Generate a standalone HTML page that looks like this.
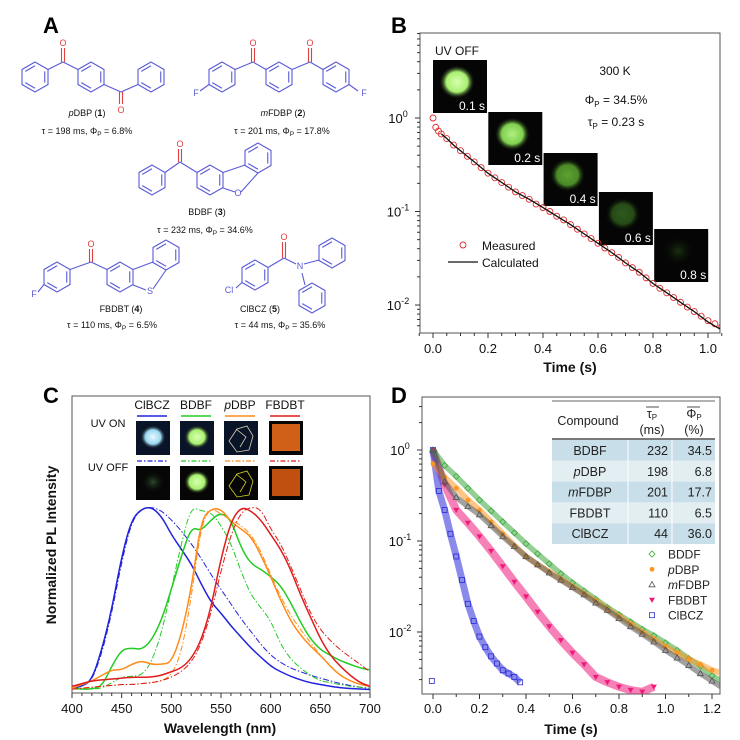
<!DOCTYPE html>
<html><head><meta charset="utf-8">
<style>
html,body{margin:0;padding:0;background:#fff;}
svg{display:block;font-family:"Liberation Sans",sans-serif;}
.mol{stroke:#5a5ad6;stroke-width:1.1;fill:none;}
.ox{fill:#e04040;font-size:9px;}
.at{fill:#5a5ad6;font-size:9px;}
.cap{font-size:9px;fill:#111;}
.tick{font-size:13px;fill:#111;}
.ttl{font-size:14px;font-weight:bold;fill:#111;}
.pl{font-size:22px;font-weight:bold;fill:#000;}
</style></head>
<body>
<svg id="fig" width="740" height="740" viewBox="0 0 740 740" xmlns="http://www.w3.org/2000/svg">
<defs>
<clipPath id="clipB"><rect x="420" y="33" width="300" height="300"/></clipPath>
<clipPath id="clipC"><rect x="72" y="396" width="298" height="297"/></clipPath>
<clipPath id="clipD"><rect x="422" y="397" width="298" height="297"/></clipPath>
<radialGradient id="gG1"><stop offset="0" stop-color="#d8ffb0"/><stop offset="0.6" stop-color="#a8f070"/><stop offset="1" stop-color="#000" stop-opacity="0"/></radialGradient>
<radialGradient id="gG2"><stop offset="0" stop-color="#b0f080"/><stop offset="0.6" stop-color="#80d050"/><stop offset="1" stop-color="#000" stop-opacity="0"/></radialGradient>
<radialGradient id="gG3"><stop offset="0" stop-color="#60a030"/><stop offset="0.6" stop-color="#4a8a28"/><stop offset="1" stop-color="#000" stop-opacity="0"/></radialGradient>
<radialGradient id="gG4"><stop offset="0" stop-color="#2e5a1c"/><stop offset="0.6" stop-color="#264a18"/><stop offset="1" stop-color="#000" stop-opacity="0"/></radialGradient>
<radialGradient id="gG5"><stop offset="0" stop-color="#1c3012"/><stop offset="1" stop-color="#000" stop-opacity="0"/></radialGradient>
<radialGradient id="gBlue"><stop offset="0" stop-color="#e8f8ff"/><stop offset="0.6" stop-color="#9ad8f0"/><stop offset="1" stop-color="#000" stop-opacity="0"/></radialGradient>
<radialGradient id="gDim"><stop offset="0" stop-color="#2c4a2c"/><stop offset="1" stop-color="#000" stop-opacity="0"/></radialGradient>
</defs>

<g id="panelA">
<text x="43" y="33" class="pl">A</text>
<g id="molecules"></g>
<text x="87" y="116" text-anchor="middle" class="cap"><tspan font-style="italic">p</tspan>DBP (<tspan font-weight="bold">1</tspan>)</text>
<text x="87" y="134" text-anchor="middle" class="cap">τ = 198 ms, Φ<tspan font-size="6.5" dy="2">P</tspan><tspan dy="-2"> = 6.8%</tspan></text>
<text x="283" y="116" text-anchor="middle" class="cap"><tspan font-style="italic">m</tspan>FDBP (<tspan font-weight="bold">2</tspan>)</text>
<text x="282" y="134" text-anchor="middle" class="cap">τ = 201 ms, Φ<tspan font-size="6.5" dy="2">P</tspan><tspan dy="-2"> = 17.8%</tspan></text>
<text x="207" y="215" text-anchor="middle" class="cap">BDBF (<tspan font-weight="bold">3</tspan>)</text>
<text x="205" y="233" text-anchor="middle" class="cap">τ = 232 ms, Φ<tspan font-size="6.5" dy="2">P</tspan><tspan dy="-2"> = 34.6%</tspan></text>
<text x="121" y="312" text-anchor="middle" class="cap">FBDBT (<tspan font-weight="bold">4</tspan>)</text>
<text x="112" y="328" text-anchor="middle" class="cap">τ = 110 ms, Φ<tspan font-size="6.5" dy="2">P</tspan><tspan dy="-2"> = 6.5%</tspan></text>
<text x="260" y="312" text-anchor="middle" class="cap">ClBCZ (<tspan font-weight="bold">5</tspan>)</text>
<text x="280" y="328" text-anchor="middle" class="cap">τ = 44 ms, Φ<tspan font-size="6.5" dy="2">P</tspan><tspan dy="-2"> = 35.6%</tspan></text>
</g>

<g id="panelB">
<text x="391" y="33" class="pl">B</text>
<rect x="420" y="33" width="300" height="300" fill="none" stroke="#555" stroke-width="1"/>
<g id="bAxes"></g>
<g id="bImgs"></g>
<g id="bData" clip-path="url(#clipB)"></g>
<text x="435" y="55" font-size="12" fill="#111">UV OFF</text>
<text x="615" y="75" font-size="12" fill="#111" text-anchor="middle">300 K</text>
<text x="616" y="104" font-size="12" fill="#111" text-anchor="middle">Φ<tspan font-size="8" dy="3">P</tspan><tspan dy="-3"> = 34.5%</tspan></text>
<text x="616" y="126" font-size="12" fill="#111" text-anchor="middle">τ<tspan font-size="8" dy="3">P</tspan><tspan dy="-3"> = 0.23 s</tspan></text>
<circle cx="463" cy="245" r="3" fill="none" stroke="#e03030" stroke-width="0.9"/>
<text x="482" y="250" font-size="12" fill="#111">Measured</text>
<line x1="448" y1="262" x2="478" y2="262" stroke="#111" stroke-width="1.2"/>
<text x="482" y="267" font-size="12" fill="#111">Calculated</text>
<text x="570" y="372" text-anchor="middle" class="ttl">Time (s)</text>
</g>

<g id="panelC">
<text x="43" y="403" class="pl">C</text>
<rect x="72" y="396" width="298" height="297" fill="none" stroke="#555" stroke-width="1"/>
<g id="cAxes"></g>
<g id="cData" clip-path="url(#clipC)"></g>
<g id="cInsets"></g>
<text x="220" y="733" text-anchor="middle" class="ttl">Wavelength (nm)</text>
<text transform="translate(56,545) rotate(-90)" text-anchor="middle" class="ttl">Normalized PL Intensity</text>
</g>

<g id="panelD">
<text x="391" y="403" class="pl">D</text>
<rect x="422" y="397" width="298" height="297" fill="none" stroke="#555" stroke-width="1"/>
<g id="dAxes"></g>
<g id="dData" clip-path="url(#clipD)"></g>
<g id="dTable"></g>
<g id="dLegend"></g>
<text x="571" y="734" text-anchor="middle" class="ttl">Time (s)</text>
</g>
</svg>

<script>
const bTimes = [0,0.01,0.02,0.03,0.05,0.075,0.1,0.125,0.15,0.175,0.2,0.225,0.25,0.275,0.3,0.325,0.35,0.375,0.4,0.425,0.45,0.475,0.5,0.525,0.55,0.575,0.6,0.625,0.65,0.675,0.7,0.725,0.75,0.775,0.8,0.825,0.85,0.875,0.9,0.925,0.95,0.975,1.0,1.025,1.05];
const bMeasured = [1,0.794,0.724,0.676,0.603,0.513,0.447,0.389,0.339,0.295,0.257,0.229,0.204,0.182,0.162,0.148,0.135,0.120,0.110,0.100,0.0891,0.0813,0.0724,0.0646,0.0575,0.0513,0.0457,0.0407,0.0363,0.0324,0.0282,0.0251,0.0224,0.0195,0.0170,0.0151,0.0135,0.0120,0.0107,0.0095,0.0085,0.0076,0.0068,0.0063,0.0059];
const bCalcTimes = [0.03,0.05,0.075,0.1,0.15,0.2,0.25,0.3,0.35,0.4,0.45,0.5,0.55,0.6,0.65,0.7,0.75,0.8,0.85,0.9,0.95,1.0,1.05];
const bCalculated = [0.676,0.603,0.513,0.447,0.339,0.257,0.204,0.162,0.135,0.110,0.0891,0.0724,0.0575,0.0457,0.0363,0.0282,0.0224,0.0170,0.0135,0.0107,0.0085,0.0066,0.0054];
const bXTicks = [0,0.2,0.4,0.6,0.8,1.0];
const bXTickLabels = ["0.0","0.2","0.4","0.6","0.8","1.0"];
const bYExponents = [0,-1,-2];
const bInsetTimes = [0.1,0.2,0.4,0.6,0.8];
const bInsetLabels = ["0.1 s","0.2 s","0.4 s","0.6 s","0.8 s"];

const cWavelengths = [400,410,420,430,440,450,460,470,480,490,500,510,520,530,540,550,560,570,580,590,600,610,620,630,640,650,660,670,680,690,700];
const cClbczOn  = [0.01,0.02,0.055,0.22,0.44,0.73,0.93,0.99,1.0,0.95,0.85,0.77,0.69,0.58,0.48,0.42,0.35,0.29,0.23,0.18,0.13,0.1,0.075,0.055,0.04,0.03,0.02,0.013,0.008,0.005,0.003];
const cClbczOff = [0.01,0.02,0.05,0.2,0.42,0.7,0.92,0.99,1.0,0.98,0.93,0.87,0.8,0.72,0.63,0.55,0.47,0.39,0.32,0.25,0.19,0.15,0.12,0.1,0.08,0.065,0.05,0.035,0.025,0.015,0.01];
const cBdbfOn   = [0.01,0.005,0.005,0.02,0.13,0.22,0.23,0.22,0.27,0.38,0.55,0.73,0.89,0.87,0.93,0.97,0.93,0.78,0.69,0.66,0.62,0.57,0.48,0.37,0.28,0.22,0.19,0.16,0.14,0.12,0.11];
const cBdbfOff  = [0.005,0.005,0.005,0.01,0.04,0.07,0.075,0.08,0.15,0.31,0.55,0.8,1.0,0.98,0.97,0.9,0.8,0.65,0.52,0.45,0.38,0.25,0.17,0.12,0.08,0.05,0.04,0.03,0.02,0.015,0.01];
const cPdbpOn   = [0.01,0.03,0.05,0.08,0.11,0.11,0.14,0.16,0.14,0.14,0.15,0.3,0.55,0.93,0.99,0.99,0.92,0.88,0.84,0.74,0.62,0.49,0.38,0.3,0.24,0.19,0.13,0.08,0.05,0.03,0.02];
const cPdbpOff  = [0.005,0.01,0.015,0.02,0.025,0.03,0.03,0.035,0.04,0.05,0.08,0.2,0.5,0.9,1.0,0.96,0.93,0.9,0.85,0.76,0.63,0.51,0.41,0.33,0.26,0.19,0.13,0.08,0.05,0.03,0.02];
const cFbdbtOn  = [0.02,0.035,0.05,0.055,0.06,0.065,0.07,0.07,0.07,0.08,0.1,0.12,0.17,0.27,0.45,0.72,0.92,1.0,0.98,0.93,0.85,0.77,0.66,0.52,0.4,0.28,0.19,0.13,0.08,0.04,0.02];
const cFbdbtOff = [0.005,0.01,0.015,0.02,0.025,0.03,0.03,0.035,0.04,0.05,0.07,0.1,0.15,0.25,0.42,0.65,0.85,0.97,1.0,0.99,0.88,0.8,0.68,0.55,0.42,0.33,0.27,0.22,0.18,0.14,0.1];
const cXTicks = [400,450,500,550,600,650,700];
const cCompounds = ["ClBCZ","BDBF","pDBP","FBDBT"];
const cColors = ["#2222dd","#22cc22","#ff8c1a","#e01c1c"];

const dTimes = [0,0.05,0.1,0.15,0.2,0.25,0.3,0.35,0.4,0.45,0.5,0.55,0.6,0.65,0.7,0.75,0.8,0.85,0.9,0.95,1.0,1.05,1.1,1.15,1.2,1.25];
const dBdbf  = [1,0.676,0.513,0.380,0.282,0.214,0.162,0.123,0.0933,0.0724,0.0562,0.0437,0.0347,0.0282,0.0229,0.0186,0.0155,0.0129,0.0107,0.0091,0.0076,0.0063,0.0051,0.0042,0.0033,0.0028];
const dPdbp  = [0.708,0.501,0.380,0.282,0.219,0.162,0.120,0.0891,0.0676,0.0550,0.0457,0.0380,0.0316,0.0263,0.0219,0.0178,0.0148,0.0123,0.0100,0.0083,0.0069,0.0059,0.0050,0.0044,0.0038,0.0035];
const dMfdbp = [1,0.447,0.302,0.240,0.195,0.148,0.112,0.0871,0.0676,0.0550,0.0447,0.0372,0.0309,0.0257,0.0209,0.0174,0.0141,0.0115,0.0095,0.0078,0.0063,0.0052,0.0043,0.0035,0.0029,0.0024];
const dFbdbtTimes = [0,0.05,0.1,0.15,0.2,0.25,0.3,0.35,0.4,0.45,0.5,0.55,0.6,0.65,0.7,0.75,0.8,0.85,0.9,0.95];
const dFbdbt = [1,0.417,0.219,0.158,0.112,0.0776,0.0525,0.0355,0.0245,0.0166,0.0115,0.0081,0.0059,0.0044,0.0032,0.0028,0.0025,0.0023,0.0022,0.0025];
const dClbczTimes = [0,0.025,0.05,0.075,0.1,0.125,0.15,0.175,0.2,0.225,0.25,0.275,0.3,0.325,0.35,0.375];
const dClbcz = [1,0.355,0.219,0.120,0.0676,0.0372,0.0204,0.0132,0.0089,0.0068,0.0054,0.0045,0.0038,0.0035,0.0032,0.0028];
const dXTicks = [0,0.2,0.4,0.6,0.8,1.0,1.2];
const dXTickLabels = ["0.0","0.2","0.4","0.6","0.8","1.0","1.2"];
const dYExponents = [0,-1,-2];
const tableCompounds = ["BDBF","pDBP","mFDBP","FBDBT","ClBCZ"];
const tableTau = ["232","198","201","110","44"];
const tablePhi = ["34.5","6.8","17.7","6.5","36.0"];
const legendNames = ["BDDF","pDBP","mFDBP","FBDBT","ClBCZ"];

const NS = "http://www.w3.org/2000/svg";
function mk(parent, tag, attrs, txt){
  const e = document.createElementNS(NS, tag);
  for (const k in attrs) e.setAttribute(k, attrs[k]);
  if (txt !== undefined) e.textContent = txt;
  parent.appendChild(e);
  return e;
}
const $ = id => document.getElementById(id);

(function(){
  const g = $('molecules');
  function hex(cx, cy, r, name){
    let pts = [];
    for (let i=0;i<6;i++){ const a = Math.PI/180*(90+60*i); pts.push((cx+r*Math.cos(a)).toFixed(1)+','+(cy-r*Math.sin(a)).toFixed(1)); }
    const p = mk(g,'polygon',{points:pts.join(' '),class:'mol'});
    
    
    for (let i=0;i<6;i+=2){
      const a1 = Math.PI/180*(90+60*i), a2 = Math.PI/180*(90+60*(i+1)), ri = r*0.75;
      const l = mk(g,'line',{x1:cx+ri*Math.cos(a1),y1:cy-ri*Math.sin(a1),x2:cx+ri*Math.cos(a2),y2:cy-ri*Math.sin(a2),class:'mol'});
      
      
    }
  }
  function bond(x1,y1,x2,y2,red){
    const l = mk(g,'line',{x1,y1,x2,y2,class:'mol'});
    if (red) l.setAttribute('style','stroke:#e04040');
    
    
  }
  function carbonyl(x,y,oy){
    bond(x-1.5,y,x-1.5,oy+4,true); bond(x+1.5,y,x+1.5,oy+4,true);
    const t = mk(g,'text',{x:x,y:oy+2,'text-anchor':'middle',class:'ox'},'O');
    
    
  }
  function atom(x,y,s){
    const t = mk(g,'text',{x:x,y:y,'text-anchor':'middle',class:'at'},s);
    
    
  }
  const r = 15, dx = 13, dy = 7.5;
  hex(35,77,r,'ring'); hex(91,77,r,'ring'); hex(151,77,r,'ring');
  bond(35+dx,77-dy,63,62); bond(63,62,91-dx,77-dy); carbonyl(63,62,44);
  bond(91+dx,77+dy,121,92); bond(121,92,151-dx,77+dy);
  bond(119.5,92,119.5,104,true); bond(122.5,92,122.5,104,true);
  const o2 = mk(g,'text',{x:121,y:113,'text-anchor':'middle',class:'ox'},'O');
  
  
  hex(222,77,r,'ring'); hex(279,77,r,'ring'); hex(336,77,r,'ring');
  bond(222+dx,77-dy,253,62); bond(253,62,279-dx,77-dy); carbonyl(253,62,44);
  bond(279+dx,77-dy,310,62); bond(310,62,336-dx,77-dy); carbonyl(310,62,44);
  bond(222-dx,77+dy,200,91); atom(196,96,'F');
  bond(336+dx,77+dy,358,91); atom(364,96,'F');
  hex(152,180,r,'ring'); hex(210,180,r,'ring'); hex(258,158,r,'ring');
  bond(152+dx,180-dy,180,162); bond(180,162,210-dx,180-dy); carbonyl(180,162,145);
  bond(210+dx,180-dy,245,165); bond(223,188,235,192); bond(241,192,258,173);
  atom(238,196,'O');
  hex(57,277,r,'ring'); hex(120,277,r,'ring'); hex(166,255,r,'ring');
  bond(57+dx,277-dy,91,262); bond(91,262,120-dx,277-dy); carbonyl(91,262,245);
  bond(120+dx,277-dy,153,262); bond(133,285,146,290); bond(153,289,166,270);
  atom(150,294,'S');
  bond(57-dx,277+dy,38,292); atom(34,297,'F');
  hex(255,275,r,'ring'); hex(332,253,r,'ring'); hex(312,298,r,'ring');
  bond(255+dx,275-dy,284,258); bond(284,258,296,264); carbonyl(284,258,238);
  atom(300,269,'N'); bond(304,264,319,260); bond(302,273,305,285);
  bond(255-dx,275+dy,236,288); atom(229,293,'Cl');
})();

(function(){
  const bx = t => 433 + t*275;
  const by = v => 118 - Math.log10(v)*93.5;
  const ax = $('bAxes'), dat = $('bData'), im = $('bImgs');
  for (let i=0;i<bXTicks.length;i++){
    const x = bx(bXTicks[i]);
    const t = mk(ax,'line',{x1:x,y1:333,x2:x,y2:338,stroke:'#333'});
    
    
    const l = mk(ax,'text',{x:x,y:353,'text-anchor':'middle',class:'tick'},bXTickLabels[i]);
    
    
  }
  for (let v=-0.05; v<=1.051; v+=0.05){
    const x = bx(v);
    const t = mk(ax,'line',{x1:x,y1:333,x2:x,y2:336,stroke:'#333'});
    
    
  }
  for (let i=0;i<bYExponents.length;i++){
    const y = by(Math.pow(10,bYExponents[i]));
    const t = mk(ax,'line',{x1:415,y1:y,x2:420,y2:y,stroke:'#333'});
    
    
    const l = mk(ax,'text',{x:398,y:y+5,'text-anchor':'middle',class:'tick'});
    
    
    l.innerHTML = '10<tspan font-size="9" dy="-6">'+(bYExponents[i]===0?'0':bYExponents[i])+'</tspan>';
  }
  for (let e=-3;e<=0;e++){ for (let m=2;m<=9;m++){
    const y = by(m*Math.pow(10,e));
    if (y<33||y>333) continue;
    const t = mk(ax,'line',{x1:417,y1:y,x2:420,y2:y,stroke:'#333'});
    
    
  }}
  const grads = ['gG1','gG2','gG3','gG4','gG5'];
  for (let i=0;i<bInsetTimes.length;i++){
    const x0 = 433 + i*55.3, y0 = 60 + [0,52,93,132,169][i];
    const r = mk(im,'rect',{x:x0,y:y0,width:54,height:53,fill:'#050505'});
    
    
    const c = mk(im,'ellipse',{cx:x0+24,cy:y0+22,rx:18,ry:17,fill:'url(#'+grads[i]+')'});
    
    
    const t = mk(im,'text',{x:x0+52,y:y0+50,'text-anchor':'end','font-size':'12',fill:'#fff'},bInsetLabels[i]);
    
    
  }
  const pts = bCalcTimes.map((t,i)=>bx(t).toFixed(1)+','+by(bCalculated[i]).toFixed(1)).join(' ');
  for (let i=0;i<bTimes.length;i++){
    const c = mk(dat,'circle',{cx:bx(bTimes[i]),cy:by(bMeasured[i]),r:3,fill:'none',stroke:'#e03030','stroke-width':0.9});
    
    
  }
  const pl = mk(dat,'polyline',{points:pts,fill:'none',stroke:'#111','stroke-width':1.3});
  
  
})();

(function(){
  const cx = w => 72 + (w-400)*0.9933;
  const cy = v => 690 - v*183;
  const ax = $('cAxes'), dat = $('cData'), ins = $('cInsets');
  for (let w=400; w<=700; w+=10){
    const major = cXTicks.indexOf(w) >= 0;
    const t = mk(ax,'line',{x1:cx(w),y1:693,x2:cx(w),y2:major?698:696,stroke:'#333'});
    
    
  }
  for (let i=0;i<cXTicks.length;i++){
    const l = mk(ax,'text',{x:cx(cXTicks[i]),y:713,'text-anchor':'middle',class:'tick'},String(cXTicks[i]));
    
    
  }
  const series = [[cClbczOn,cClbczOff],[cBdbfOn,cBdbfOff],[cPdbpOn,cPdbpOff],[cFbdbtOn,cFbdbtOff]];
  for (let s=0;s<4;s++){
    for (let k=0;k<2;k++){
      const arr = series[s][k];
      let d = '';
      for (let i=0;i<cWavelengths.length;i++){
        const x = cx(cWavelengths[i]), y = cy(arr[i]);
        if (i===0) d += 'M'+x.toFixed(1)+','+y.toFixed(1);
        else { const xp = cx(cWavelengths[i-1]), yp = cy(arr[i-1]);
          d += ' Q'+xp.toFixed(1)+','+yp.toFixed(1)+' '+((x+xp)/2).toFixed(1)+','+((y+yp)/2).toFixed(1); }
      }
      d += ' L'+cx(cWavelengths[cWavelengths.length-1]).toFixed(1)+','+cy(arr[arr.length-1]).toFixed(1);
      const p = mk(dat,'path',{d:d,fill:'none',stroke:cColors[s],'stroke-width':k?1:1.5,'stroke-dasharray':k?'6,2,1.5,2':'none'});
      
      
    }
  }
  const xs = [152,196,240,285];
  for (let s=0;s<4;s++){
    const lab = mk(ins,'text',{x:xs[s],y:409,'text-anchor':'middle','font-size':'12',fill:'#111'});
    
    
    lab.innerHTML = s===2 ? '<tspan font-style="italic">p</tspan>DBP' : cCompounds[s];
    const l1 = mk(ins,'line',{x1:xs[s]-15,y1:416,x2:xs[s]+15,y2:416,stroke:cColors[s],'stroke-width':1.5});
    
    
    const l2 = mk(ins,'line',{x1:xs[s]-15,y1:461,x2:xs[s]+15,y2:461,stroke:cColors[s],'stroke-width':1.2,'stroke-dasharray':'5,2,1.5,2'});
    
    
  }
  const on = mk(ins,'text',{x:108,y:427,'text-anchor':'middle','font-size':'11',fill:'#111'},'UV ON');
  
  
  const off = mk(ins,'text',{x:108,y:471,'text-anchor':'middle','font-size':'11',fill:'#111'},'UV OFF');
  
  
  const ix = [136,180,224,269];
  const fills = [['url(#gBlue)','url(#gDim)'],['url(#gG1)','url(#gG1)'],[null,null],[null,null]];
  for (let row=0; row<2; row++){
    const y0 = row? 466 : 421;
    for (let s=0;s<4;s++){
      const r = mk(ins,'rect',{x:ix[s],y:y0,width:34,height:34,fill: row===0 && s<3 ? '#0a1428' : '#060606'});
      
      
      if (s<2){
        const e = mk(ins,'ellipse',{cx:ix[s]+17,cy:y0+16,rx:13,ry:12,fill:fills[s][row]});
        
        
      } else if (s===2){
        const p = mk(ins,'path',{d:`M${ix[s]+5},${y0+20} l8,-12 l10,-3 l6,10 l-4,14 l-12,2 z M${ix[s]+12},${y0+8} l10,8 l-6,10`,fill:'none',stroke:row?'#d8d020':'#d8d0b0','stroke-width':0.8});
        
        
      } else {
        const q = mk(ins,'rect',{x:ix[s]+3,y:y0+3,width:28,height:27,fill:row?'#c05010':'#d06018'});
        
        
      }
    }
  }
})();

(function(){
  const dx = t => 433 + t*232.5;
  const dy = v => 450 - Math.log10(v)*91;
  const ax = $('dAxes'), dat = $('dData');
  for (let i=0;i<dXTicks.length;i++){
    const x = dx(dXTicks[i]);
    const t = mk(ax,'line',{x1:x,y1:694,x2:x,y2:699,stroke:'#333'});
    
    
    const l = mk(ax,'text',{x:x,y:713,'text-anchor':'middle',class:'tick'},dXTickLabels[i]);
    
    
  }
  for (let v=0.1; v<1.25; v+=0.2){
    const t = mk(ax,'line',{x1:dx(v),y1:694,x2:dx(v),y2:697,stroke:'#333'});
    
    
  }
  for (let i=0;i<dYExponents.length;i++){
    const y = dy(Math.pow(10,dYExponents[i]));
    const t = mk(ax,'line',{x1:417,y1:y,x2:422,y2:y,stroke:'#333'});
    
    
    const l = mk(ax,'text',{x:400,y:y+5,'text-anchor':'middle',class:'tick'});
    
    
    l.innerHTML = '10<tspan font-size="9" dy="-6">'+(dYExponents[i]===0?'0':dYExponents[i])+'</tspan>';
  }
  for (let e=-3;e<=0;e++){ for (let m=2;m<=9;m++){
    const y = dy(m*Math.pow(10,e));
    if (y<397||y>694) continue;
    const t = mk(ax,'line',{x1:419,y1:y,x2:422,y2:y,stroke:'#333'});
    
    
  }}
  function marker(g, kind, x, y, color){
    let e;
    if (kind==='diamond') e = mk(g,'path',{d:`M${x},${y-3} L${x+3},${y} L${x},${y+3} L${x-3},${y} Z`,fill:'none',stroke:color,'stroke-width':0.8});
    else if (kind==='circle') e = mk(g,'circle',{cx:x,cy:y,r:2.4,fill:color});
    else if (kind==='tri') e = mk(g,'path',{d:`M${x},${y-3} L${x+3},${y+2.2} L${x-3},${y+2.2} Z`,fill:'none',stroke:color,'stroke-width':0.8});
    else if (kind==='dtri') e = mk(g,'path',{d:`M${x-3},${y-2.2} L${x+3},${y-2.2} L${x},${y+3} Z`,fill:color});
    else e = mk(g,'rect',{x:x-2.5,y:y-2.5,width:5,height:5,fill:'none',stroke:color,'stroke-width':0.8});
    return e;
  }
  const series = [
    {t:dFbdbtTimes,v:dFbdbt,c:'#ee1a7a',k:'dtri',n:'fbdbt',w:8},
    {t:dClbczTimes,v:dClbcz,c:'#2a2ad8',k:'square',n:'clbcz',w:7},
    {t:dTimes,v:dBdbf,c:'#3aa83a',k:'diamond',n:'bdbf',w:5.5},
    {t:dTimes,v:dPdbp,c:'#ff9620',k:'circle',n:'pdbp',w:6},
    {t:dTimes,v:dMfdbp,c:'#555',k:'tri',n:'mfdbp',w:5.5}
  ];
  for (const s of series){
    const pts = s.t.map((t,i)=>dx(t).toFixed(1)+','+dy(s.v[i]).toFixed(1)).join(' ');
    const band = mk(dat,'polyline',{points:pts,fill:'none',stroke:s.c,'stroke-width':s.w,'stroke-opacity':0.55,'stroke-linejoin':'round'});
    
    
    for (let i=0;i<s.t.length;i++){
      const m = marker(dat, s.k, dx(s.t[i]), dy(s.v[i]), s.c);
      
      
    }
  }
  const legendSeries = [series[2],series[3],series[4],series[0],series[1]];
  const tb = $('dTable');
  const rowH = 20.8, top = 440;
  for (let i=0;i<tableCompounds.length;i++){
    const y = top + i*rowH;
    const bg = mk(tb,'rect',{x:552,y:y,width:163,height:rowH,fill: i%2 ? '#e3eef2' : '#c8dee8'});
    
    
    const n = mk(tb,'text',{x:590,y:y+15,'text-anchor':'middle','font-size':'12.5',fill:'#222'});
    
    
    const nm = tableCompounds[i];
    n.innerHTML = (nm[0]==='p'||nm[0]==='m') ? '<tspan font-style="italic">'+nm[0]+'</tspan>'+nm.slice(1) : nm;
    const tt = mk(tb,'text',{x:668,y:y+15,'text-anchor':'end','font-size':'12.5',fill:'#222'},tableTau[i]);
    
    
    const tp = mk(tb,'text',{x:712,y:y+15,'text-anchor':'end','font-size':'12.5',fill:'#222'},tablePhi[i]);
    
    
  }
  for (const x of [628,672]){
    const v = mk(tb,'line',{x1:x,y1:top,x2:x,y2:top+5*rowH,stroke:'#fff','stroke-width':1});
    
    
  }
  const r1 = mk(tb,'line',{x1:552,y1:401,x2:715,y2:401,stroke:'#333','stroke-width':0.8});
  
  
  const r2 = mk(tb,'line',{x1:552,y1:439,x2:715,y2:439,stroke:'#666','stroke-width':1.8});
  
  
  const h1 = mk(tb,'text',{x:588,y:425,'text-anchor':'middle','font-size':'12.5',fill:'#222'},'Compound');
  
  
  const h2 = mk(tb,'text',{x:652,y:418,'text-anchor':'middle','font-size':'12.5',fill:'#222'});
  
  
  h2.innerHTML = 'τ<tspan font-size="8" dy="2">P</tspan>';
  const h2b = mk(tb,'text',{x:652,y:434,'text-anchor':'middle','font-size':'12.5',fill:'#222'},'(ms)');
  
  
  const h3 = mk(tb,'text',{x:694,y:418,'text-anchor':'middle','font-size':'12.5',fill:'#222'});
  
  
  h3.innerHTML = 'Φ<tspan font-size="8" dy="2">P</tspan>';
  const h3b = mk(tb,'text',{x:694,y:434,'text-anchor':'middle','font-size':'12.5',fill:'#222'},'(%)');
  
  
  for (const [x1,x2] of [[646,659],[687,700]]){
    const o = mk(tb,'line',{x1,y1:407,x2,y2:407,stroke:'#222','stroke-width':0.8});
    
    
  }
  const lg = $('dLegend');
  for (let i=0;i<legendSeries.length;i++){
    const y = 554 + i*15.3;
    const m = marker(lg, legendSeries[i].k, 652, y, legendSeries[i].c);
    
    
    const t = mk(lg,'text',{x:668,y:y+4.5,'font-size':'12',fill:'#222'});
    
    
    const nm = legendNames[i];
    t.innerHTML = (nm[0]==='p'||nm[0]==='m') ? '<tspan font-style="italic">'+nm[0]+'</tspan>'+nm.slice(1) : nm;
  }
  const out = marker(lg,'square',dx(-0.005),dy(0.0029),'#2a2ad8');
  
  
})();
</script>
</body></html>
